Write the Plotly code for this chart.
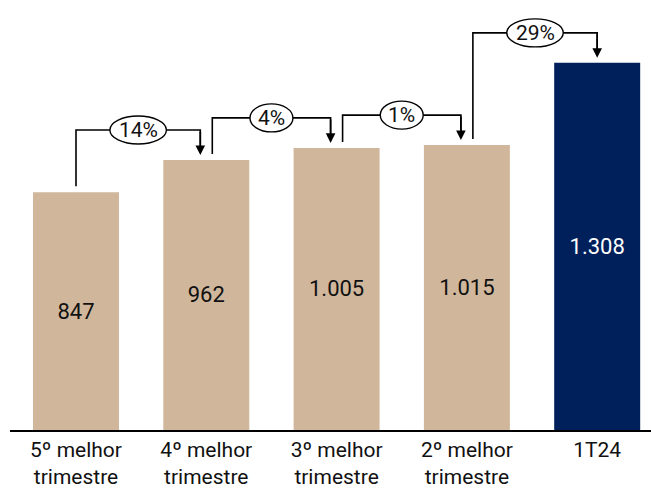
import plotly.graph_objects as go

# Quarterly results: five best quarters vs. 1T24
categories = ["5º melhor<br>trimestre", "4º melhor<br>trimestre", "3º melhor<br>trimestre",
              "2º melhor<br>trimestre", "1T24"]
values = [847, 962, 1005, 1015, 1308]
value_labels = ["847", "962", "1.005", "1.015", "1.308"]
growth_labels = ["14%", "4%", "1%", "29%"]

TAN = "#D0B79C"
NAVY = "#00205B"
FONT = "Roboto"

bar_colors = [TAN] * (len(values) - 1) + [NAVY]
text_colors = ["#111111"] * (len(values) - 1) + ["#FFFFFF"]

fig = go.Figure(go.Bar(
    x=list(range(len(values))),
    y=values,
    marker=dict(color=bar_colors, line=dict(width=0)),
    text=value_labels,
    textposition="inside",
    insidetextanchor="middle",
    textfont=dict(family=FONT, size=22, color=text_colors),
    textangle=0,
    width=0.66,
    hoverinfo="skip",
))

Y_MAX = 1532
px = Y_MAX / 430.0          # data units per pixel on the value axis
rise = 30 * px              # height of the bridge above the taller bar
gap_start = 6 * px          # gap between bar top and start of connector
gap_tip = 5 * px            # gap between arrow tip and bar top
shift = 0.046               # horizontal nudge of connectors off the bar centre

shapes = []
annotations = []
n = len(values)
for i, lab in enumerate(growth_labels):
    xs = i + (shift if i > 0 else 0)
    xe = (i + 1) - (shift if i + 1 < n - 1 else 0)
    y_line = max(values[i], values[i + 1]) + rise
    y0 = values[i] + gap_start
    y_tip = values[i + 1] + gap_tip
    shapes.append(dict(
        type="path", xref="x", yref="y",
        path=f"M {xs},{y0} L {xs},{y_line} L {xe},{y_line} L {xe},{y_tip + 8 * px}",
        line=dict(color="black", width=1.6),
    ))
    annotations.append(dict(
        x=xe, y=y_tip, xref="x", yref="y",
        ax=xe, ay=y_line, axref="x", ayref="y",
        text="", showarrow=True, arrowhead=2, arrowsize=1.2,
        arrowwidth=1.6, arrowcolor="black", standoff=0,
    ))
    xm = (xs + xe) / 2
    w = 16 + 13.5 * len(lab)
    shapes.append(dict(
        type="circle", xref="x", yref="y",
        xsizemode="pixel", ysizemode="pixel",
        xanchor=xm, yanchor=y_line,
        x0=-w / 2, x1=w / 2, y0=-14, y1=14,
        fillcolor="white", line=dict(color="black", width=1.4),
    ))
    annotations.append(dict(
        x=xm, y=y_line, xref="x", yref="y", text=lab, showarrow=False,
        font=dict(family=FONT, size=21, color="#111111"),
        xanchor="center", yanchor="middle",
    ))

fig.update_layout(
    width=651, height=488,
    margin=dict(l=10, r=0, t=0, b=58),
    paper_bgcolor="white", plot_bgcolor="white",
    showlegend=False,
    shapes=shapes,
    annotations=annotations,
    xaxis=dict(
        range=[-0.5065, 4.413],
        tickvals=list(range(n)), ticktext=categories,
        tickfont=dict(family=FONT, size=21, color="#111111"),
        showline=True, linecolor="black", linewidth=1.6,
        showgrid=False, zeroline=False, ticks="",
    ),
    yaxis=dict(range=[0, Y_MAX], visible=False, showgrid=False, zeroline=False),
)

fig.write_html("out.html")
